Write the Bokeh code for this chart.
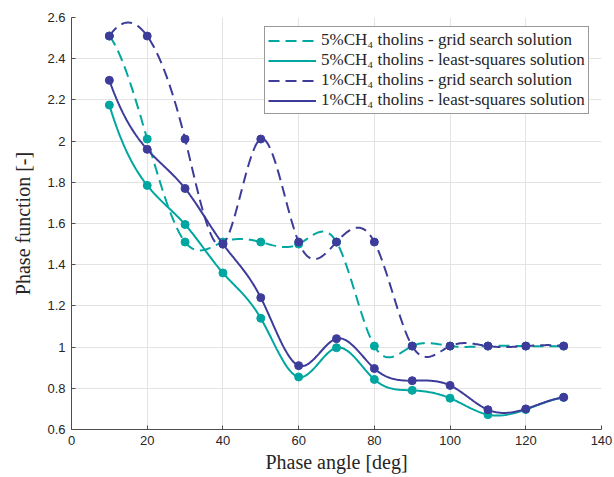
import numpy as np
from bokeh.plotting import figure
from bokeh.models import Range1d, FixedTicker, Legend, LegendItem
from bokeh.embed import file_html
from bokeh.resources import INLINE

# ---- data ----
phase_angle = [10, 20, 30, 40, 50, 60, 70, 80, 90, 100, 110, 120, 130]
grid5 = [2.51, 2.01, 1.51, 1.51, 1.51, 1.50, 1.51, 1.005, 1.005, 1.005, 1.005, 1.005, 1.005]
ls5 = [2.175, 1.785, 1.595, 1.36, 1.14, 0.855, 0.997, 0.843, 0.79, 0.752, 0.672, 0.697, 0.756]
grid1 = [2.51, 2.51, 2.01, 1.50, 2.01, 1.51, 1.51, 1.51, 1.005, 1.005, 1.005, 1.005, 1.005]
ls1 = [2.295, 1.96, 1.77, 1.50, 1.24, 0.91, 1.041, 0.896, 0.837, 0.814, 0.696, 0.70, 0.756]

labels = [
    "5%CH\u2084 tholins - grid search solution",
    "5%CH\u2084 tholins - least-squares solution",
    "1%CH\u2084 tholins - grid search solution",
    "1%CH\u2084 tholins - least-squares solution",
]
x_ticks = [0, 20, 40, 60, 80, 100, 120, 140]
y_ticks = [0.6, 0.8, 1, 1.2, 1.4, 1.6, 1.8, 2, 2.2, 2.4, 2.6]
y_tick_labels = ["0.6", "0.8", "1", "1.2", "1.4", "1.6", "1.8", "2", "2.2", "2.4", "2.6"]

TEAL = "#00a6a0"
PURPLE = "#3d3c9a"


def spline_curve(x, y, n=400):
    """Not-a-knot cubic spline through the data points (for drawing)."""
    x = np.asarray(x, float)
    y = np.asarray(y, float)
    m = len(x)
    h = np.diff(x)
    A = np.zeros((m, m))
    b = np.zeros(m)
    A[0, 0], A[0, 1], A[0, 2] = h[1], -(h[0] + h[1]), h[0]
    A[-1, -3], A[-1, -2], A[-1, -1] = h[-1], -(h[-2] + h[-1]), h[-2]
    for i in range(1, m - 1):
        A[i, i - 1] = h[i - 1]
        A[i, i] = 2 * (h[i - 1] + h[i])
        A[i, i + 1] = h[i]
        b[i] = 6 * ((y[i + 1] - y[i]) / h[i] - (y[i] - y[i - 1]) / h[i - 1])
    M = np.linalg.solve(A, b)
    xs = np.linspace(x[0], x[-1], n)
    idx = np.clip(np.searchsorted(x, xs) - 1, 0, m - 2)
    x0, x1 = x[idx], x[idx + 1]
    hh = x1 - x0
    ys = (M[idx] * (x1 - xs) ** 3 / (6 * hh) + M[idx + 1] * (xs - x0) ** 3 / (6 * hh)
          + (y[idx] / hh - M[idx] * hh / 6) * (x1 - xs)
          + (y[idx + 1] / hh - M[idx + 1] * hh / 6) * (xs - x0))
    return xs, ys


p = figure(width=614, height=477, output_backend="svg", toolbar_location=None,
           x_range=Range1d(0, 140), y_range=Range1d(0.6, 2.6),
           min_border_left=71, min_border_right=13, min_border_top=17, min_border_bottom=48)
p.outline_line_color = None
p.background_fill_color = "white"

series = [(grid5, TEAL, "11 6"), (ls5, TEAL, "solid"), (grid1, PURPLE, "11 6"), (ls1, PURPLE, "solid")]
items = []
for (vals, col, dash), lab in zip(series, labels):
    xs, ys = spline_curve(phase_angle, vals)
    r = p.line(xs, ys, line_color=col, line_width=2, line_dash=dash)
    p.scatter(phase_angle, vals, size=8, fill_color=col, line_color=col, marker="circle")
    items.append(LegendItem(label=lab, renderers=[r]))

legend = Legend(items=items, location=(193, 315))
legend.label_text_font = "Liberation Serif"
legend.label_text_font_size = "17px"
legend.label_text_color = "#262626"
legend.glyph_width = 48
legend.glyph_height = 19
legend.label_height = 19
legend.spacing = 0
legend.padding = 3
legend.margin = 0
legend.label_standoff = 5
legend.border_line_color = "#333333"
legend.border_line_width = 1
legend.background_fill_alpha = 1
p.add_layout(legend)

p.xaxis.ticker = FixedTicker(ticks=x_ticks)
p.yaxis.ticker = FixedTicker(ticks=y_ticks)
p.yaxis.major_label_overrides = {t: l for t, l in zip(y_ticks, y_tick_labels)}

for ax in (p.xaxis[0], p.yaxis[0]):
    ax.axis_line_color = "#4d4d4d"
    ax.major_tick_line_color = "#4d4d4d"
    ax.major_tick_in = 4
    ax.major_tick_out = 0
    ax.minor_tick_line_color = None
    ax.major_label_text_font = "Liberation Sans"
    ax.major_label_text_font_size = "13px"
    ax.major_label_text_color = "#262626"
    ax.axis_label_text_font = "Liberation Serif"
    ax.axis_label_text_font_size = "20px"
    ax.axis_label_text_font_style = "normal"
    ax.axis_label_text_color = "#262626"
    ax.major_label_standoff = 6

p.xaxis.axis_label = "Phase angle [deg]"
p.yaxis.axis_label = "Phase function [-]"
p.xaxis.axis_label_standoff = 3
p.yaxis.axis_label_standoff = 10

p.xgrid.ticker = FixedTicker(ticks=x_ticks)
p.ygrid.ticker = FixedTicker(ticks=y_ticks)
p.grid.grid_line_color = "#e3e3e3"
p.grid.grid_line_width = 1

open("out.html", "w").write(file_html(p, INLINE))
